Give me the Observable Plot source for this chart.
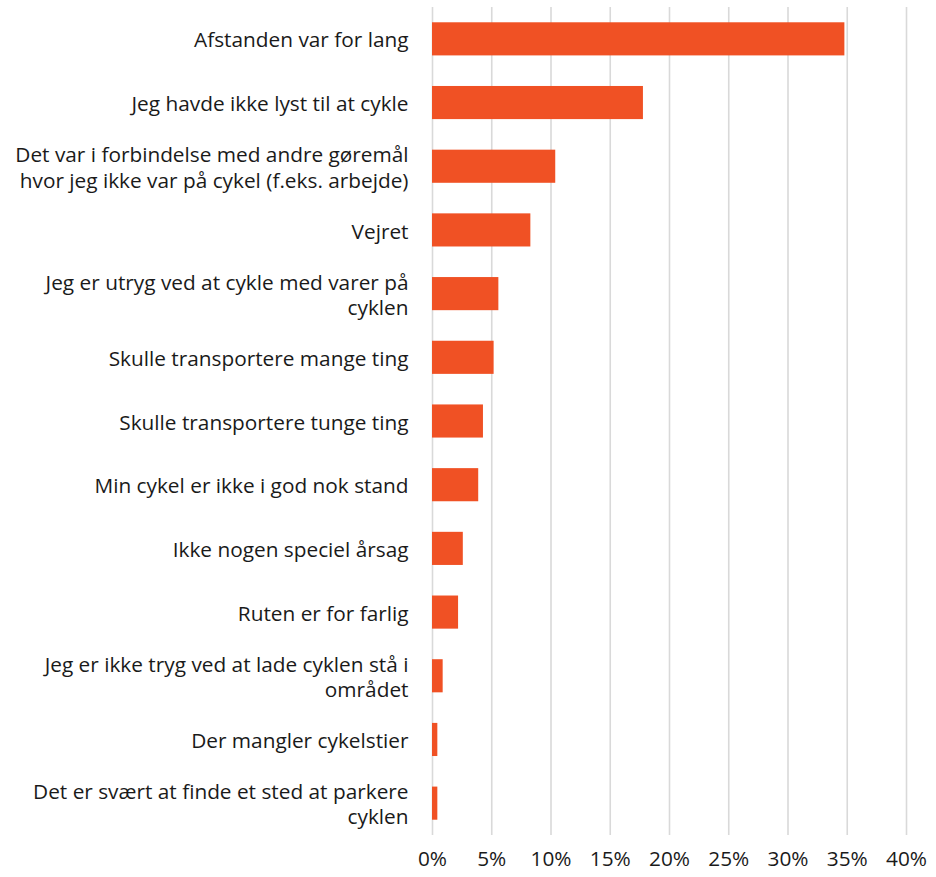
<!DOCTYPE html>
<html>
<head>
<meta charset="utf-8">
<script src="https://cdn.jsdelivr.net/npm/d3@7"></script>
<script src="https://cdn.jsdelivr.net/npm/@observablehq/plot@0.6"></script>
<style>
  html, body { margin: 0; padding: 0; background: #fff; }
</style>
</head>
<body>
<div id="chart"></div>
<script>
const categories = [
  "Afstanden var for lang",
  "Jeg havde ikke lyst til at cykle",
  "Det var i forbindelse med andre gøremål\nhvor jeg ikke var på cykel (f.eks. arbejde)",
  "Vejret",
  "Jeg er utryg ved at cykle med varer på\ncyklen",
  "Skulle transportere mange ting",
  "Skulle transportere tunge ting",
  "Min cykel er ikke i god nok stand",
  "Ikke nogen speciel årsag",
  "Ruten er for farlig",
  "Jeg er ikke tryg ved at lade cyklen stå i\nområdet",
  "Der mangler cykelstier",
  "Det er svært at finde et sted at parkere\ncyklen"
];
const values = [0.348, 0.178, 0.104, 0.083, 0.056, 0.052, 0.043, 0.039, 0.026, 0.022, 0.009, 0.0045, 0.0045];
const xTicks = [0, 0.05, 0.10, 0.15, 0.20, 0.25, 0.30, 0.35, 0.40];

const data = categories.map((c, i) => ({category: c, value: values[i]}));

const chart = Plot.plot({
  width: 936,
  height: 877,
  marginLeft: 432,
  marginRight: 30,
  marginTop: 7,
  marginBottom: 42,
  style: {fontFamily: "'Open Sans', Lato, sans-serif", fontSize: "20.8px", color: "#1a1a1a", background: "#fff"},
  x: {domain: [0, 0.40]},
  y: {domain: categories, paddingInner: 0.48, paddingOuter: 0.24, round: false},
  marks: [
    Plot.gridX(xTicks, {stroke: "#d9d9d9", strokeOpacity: 1, strokeWidth: 1.6}),
    Plot.barX(data, {x: "value", y: "category", fill: "#f05124"}),
    Plot.axisX(xTicks, {tickSize: 0, tickPadding: 16, tickFormat: d3.format(".0%"), label: null, fontSize: 20.8}),
    Plot.axisY({tickSize: 0, tickPadding: 24, label: null, fontSize: 20.8, lineHeight: 1.22})
  ]
});
document.getElementById("chart").appendChild(chart);
</script>
</body>
</html>
